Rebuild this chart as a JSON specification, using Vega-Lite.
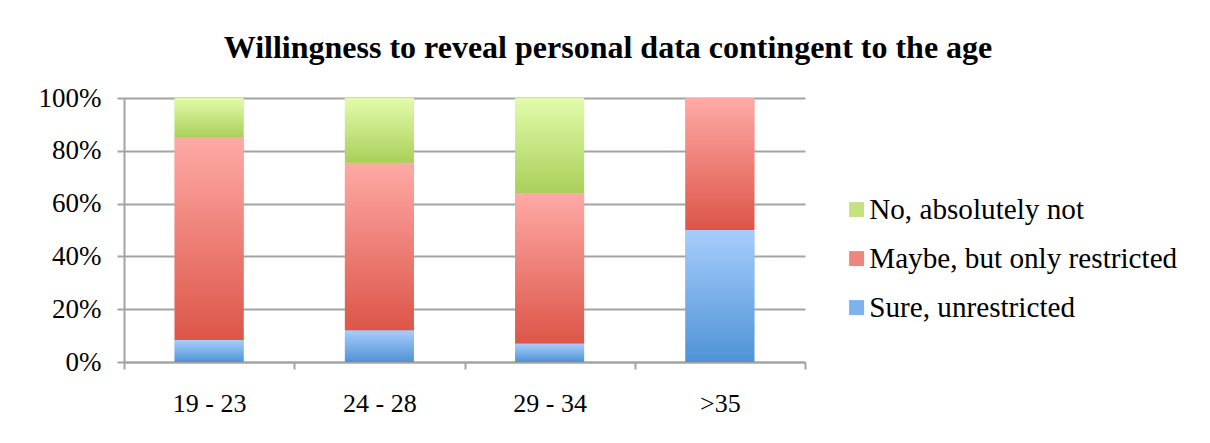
{
  "$schema": "https://vega.github.io/schema/vega-lite/v6.json",
  "width": 681,
  "height": 264,
  "autosize": "none",
  "padding": {"left": 124, "top": 98, "right": 405, "bottom": 81},
  "background": "white",
  "title": {
    "text": "Willingness to reveal personal data contingent to the age",
    "font": "Liberation Serif",
    "fontSize": 32,
    "fontWeight": "bold",
    "color": "black",
    "anchor": "middle",
    "frame": "bounds",
    "offset": 19
  },
  "data": {
    "values": [
      {"age": "19 - 23", "response": "Sure, unrestricted", "order": 1, "value": 0.083},
      {"age": "19 - 23", "response": "Maybe, but only restricted", "order": 2, "value": 0.767},
      {"age": "19 - 23", "response": "No, absolutely not", "order": 3, "value": 0.15},
      {"age": "24 - 28", "response": "Sure, unrestricted", "order": 1, "value": 0.12},
      {"age": "24 - 28", "response": "Maybe, but only restricted", "order": 2, "value": 0.635},
      {"age": "24 - 28", "response": "No, absolutely not", "order": 3, "value": 0.245},
      {"age": "29 - 34", "response": "Sure, unrestricted", "order": 1, "value": 0.07},
      {"age": "29 - 34", "response": "Maybe, but only restricted", "order": 2, "value": 0.57},
      {"age": "29 - 34", "response": "No, absolutely not", "order": 3, "value": 0.36},
      {"age": ">35", "response": "Sure, unrestricted", "order": 1, "value": 0.5},
      {"age": ">35", "response": "Maybe, but only restricted", "order": 2, "value": 0.5},
      {"age": ">35", "response": "No, absolutely not", "order": 3, "value": 0.0}
    ]
  },
  "transform": [
    {"stack": "value", "groupby": ["age"], "sort": [{"field": "order", "order": "ascending"}], "as": ["y0", "y1"]}
  ],
  "encoding": {
    "x": {
      "field": "age",
      "type": "nominal",
      "sort": ["19 - 23", "24 - 28", "29 - 34", ">35"],
      "scale": {"paddingInner": 0, "paddingOuter": 0},
      "axis": {
        "title": null,
        "labelAngle": 0,
        "labelFont": "Liberation Serif",
        "labelFontSize": 26,
        "labelColor": "black",
        "labelPadding": 21,
        "tickBand": "extent",
        "tickSize": 7,
        "tickColor": "#a3a3a3",
        "tickWidth": 2,
        "domainColor": "#a3a3a3",
        "domainWidth": 2,
        "grid": false
      }
    },
    "y": {
      "field": "y1",
      "type": "quantitative",
      "scale": {"domain": [0, 1]},
      "axis": {
        "title": null,
        "format": ".0%",
        "values": [0, 0.2, 0.4, 0.6, 0.8, 1],
        "labelFont": "Liberation Serif",
        "labelFontSize": 27,
        "labelColor": "black",
        "labelPadding": 16,
        "tickSize": 7,
        "tickColor": "#a3a3a3",
        "tickWidth": 2,
        "domainColor": "#a3a3a3",
        "domainWidth": 2,
        "grid": true,
        "gridColor": "#a3a3a3",
        "gridWidth": 2
      }
    },
    "y2": {"field": "y0"}
  },
  "layer": [
    {
      "mark": {"type": "bar", "width": {"band": 0.405}},
      "encoding": {
        "color": {
          "field": "response",
          "type": "nominal",
          "scale": {
            "domain": ["No, absolutely not", "Maybe, but only restricted", "Sure, unrestricted"],
            "range": ["#c4e37f", "#ee8680", "#7cb3ec"]
          },
          "legend": {
            "title": null,
            "orient": "none",
            "legendX": 718,
            "legendY": 97,
            "symbolType": "square",
            "symbolSize": 225,
            "symbolStrokeWidth": 0,
            "labelFont": "Liberation Serif",
            "labelFontSize": 29.2,
            "labelColor": "black",
            "labelOffset": -2,
            "rowPadding": 19,
            "labelLimit": 400
          }
        }
      }
    },
    {
      "transform": [{"filter": "datum.response === 'Sure, unrestricted'"}],
      "mark": {
        "type": "bar",
        "width": {"band": 0.405},
        "color": {"gradient": "linear", "x1": 0, "y1": 1, "x2": 0, "y2": 0,
          "stops": [{"offset": 0, "color": "#4f93d6"}, {"offset": 1, "color": "#a8cdfc"}]}
      }
    },
    {
      "transform": [{"filter": "datum.response === 'Maybe, but only restricted'"}],
      "mark": {
        "type": "bar",
        "width": {"band": 0.405},
        "color": {"gradient": "linear", "x1": 0, "y1": 1, "x2": 0, "y2": 0,
          "stops": [{"offset": 0, "color": "#dc5548"}, {"offset": 1, "color": "#ffaaa6"}]}
      }
    },
    {
      "transform": [{"filter": "datum.response === 'No, absolutely not'"}],
      "mark": {
        "type": "bar",
        "width": {"band": 0.405},
        "color": {"gradient": "linear", "x1": 0, "y1": 1, "x2": 0, "y2": 0,
          "stops": [{"offset": 0, "color": "#aacf5a"}, {"offset": 1, "color": "#e2fcab"}]}
      }
    }
  ],
  "config": {"view": {"stroke": null}}
}
